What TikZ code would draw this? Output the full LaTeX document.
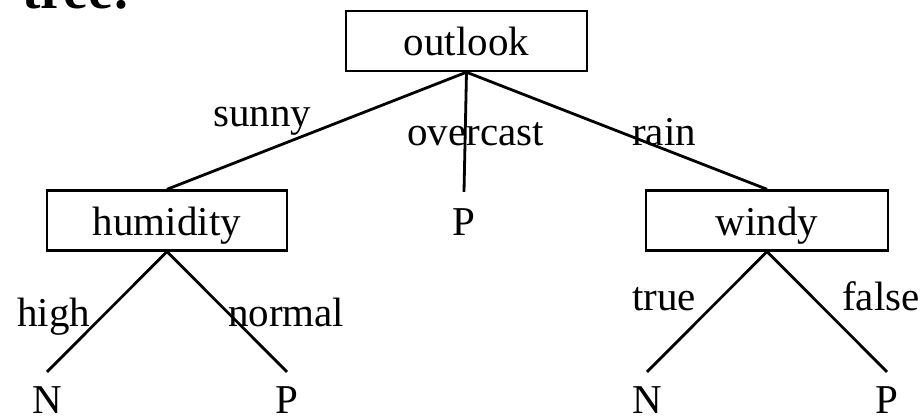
\documentclass[tikz,border=0pt]{standalone}
\usepackage{fontspec}
\setmainfont{Liberation Serif}
\begin{document}
\begin{tikzpicture}[x=1pt,y=-1pt,
  bigfont/.style={font=\fontsize{41}{48}\selectfont},
  box/.style={bigfont, draw, line width=2.4pt, minimum height=60pt, inner sep=0pt, text height=29pt, text depth=0pt},
  leaf/.style={bigfont, text height=27pt, text depth=0pt, inner xsep=0pt, inner ysep=14pt, anchor=base},
  lbl/.style={bigfont, inner sep=0pt, anchor=base west},
  edge/.style={line width=2.8pt}]
\useasboundingbox (0,0) rectangle (924,417);
\node[anchor=base west, inner sep=0pt, font=\fontsize{55}{60}\selectfont\bfseries] (title) at (22,9) {tree:};

\node[box, minimum width=241pt] (outlook) at (466.5,41) {outlook};
\node[box, minimum width=240pt] (humidity) at (167,220.5) {humidity};
\node[box, minimum width=242pt] (windy) at (767,220.5) {windy};

\node[leaf, inner ysep=16pt] (pmid) at (464,235) {P};
\node[leaf] (n1) at (47,413) {N};
\node[leaf] (p1) at (287,413) {P};
\node[leaf] (n2) at (647,413) {N};
\node[leaf] (p2) at (887,413) {P};

\draw[edge] (outlook.south) -- (humidity.north);
\draw[edge] (outlook.south) -- (pmid.north);
\draw[edge] (outlook.south) -- (windy.north);
\draw[edge] (humidity.south) -- (n1.north);
\draw[edge] (humidity.south) -- (p1.north);
\draw[edge] (windy.south) -- (n2.north);
\draw[edge] (windy.south) -- (p2.north);

\node[lbl] (lsunny) at (213,127) {sunny};
\node[lbl] (lovercast) at (407,146) {overcast};
\node[lbl] (lrain) at (632,146) {rain};
\node[lbl] (lhigh) at (17,326) {high};
\node[lbl] (lnormal) at (228,326) {normal};
\node[lbl] (ltrue) at (632,310) {true};
\node[lbl] (lfalse) at (842,310) {false};
\end{tikzpicture}
\end{document}
